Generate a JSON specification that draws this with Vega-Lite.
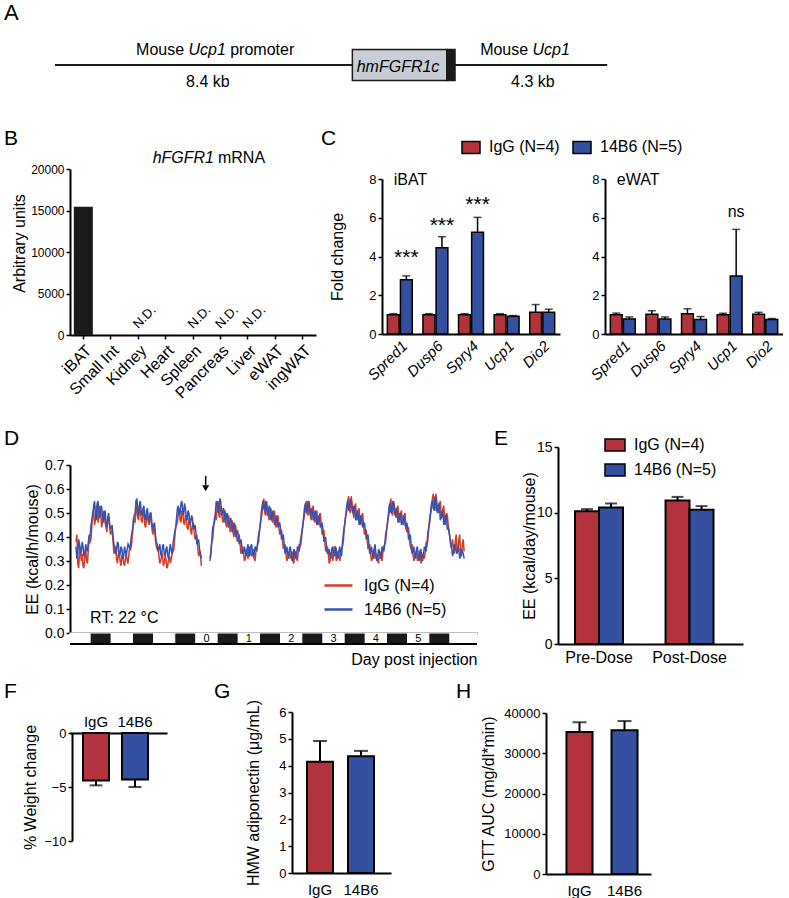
{
"$schema": "https://vega.github.io/schema/vega-lite/v6.json",
"padding": {"left": 3, "top": 0, "right": 0, "bottom": 0},
"background": "white",
"config": {
 "font": "Liberation Sans",
 "view": {"stroke": null},
 "axis": {"grid": false, "domainColor": "#000", "domainWidth": 2, "tickColor": "#000", "tickWidth": 1.5, "tickSize": 4, "labelColor": "#000", "labelFontSize": 13, "labelFont": "Liberation Sans", "titleFont": "Liberation Sans", "titleColor": "#000", "titleFontSize": 16, "titleFontWeight": "normal", "labelPadding": 2, "labelOverlap": false, "labelFlush": false},
 "legend": {"labelColor": "#000", "labelFont": "Liberation Sans", "labelFontSize": 16},
 "title": {"font": "Liberation Sans", "fontSize": 21, "fontWeight": "normal", "color": "#000", "anchor": "start", "frame": "group"},
 "text": {"font": "Liberation Sans", "color": "#000"}
},
"datasets": {
 "ee": [
{"t":-68,"r":0.38,"b":0.36},{"t":-67,"r":0.29,"b":0.33},{"t":-66,"r":0.33,"b":0.37},{"t":-65,"r":0.30,"b":0.34},{"t":-64,"r":0.28,"b":0.36},{"t":-63,"r":0.32,"b":0.33},{"t":-62,"r":0.30,"b":0.35},{"t":-61,"r":0.35,"b":0.38},
{"t":-60,"r":0.38,"b":0.40},{"t":-59,"r":0.45,"b":0.47},{"t":-58,"r":0.50,"b":0.53},{"t":-57,"r":0.47,"b":0.49},{"t":-56,"r":0.52,"b":0.54},{"t":-55,"r":0.48,"b":0.50},{"t":-54,"r":0.51,"b":0.52},{"t":-53,"r":0.46,"b":0.48},{"t":-52,"r":0.49,"b":0.50},{"t":-51,"r":0.44,"b":0.46},{"t":-50,"r":0.47,"b":0.48},{"t":-49,"r":0.45,"b":0.46},
{"t":-48,"r":0.42,"b":0.44},{"t":-47,"r":0.38,"b":0.40},{"t":-46,"r":0.34,"b":0.36},{"t":-45,"r":0.31,"b":0.34},{"t":-44,"r":0.33,"b":0.37},{"t":-43,"r":0.30,"b":0.33},{"t":-42,"r":0.32,"b":0.35},{"t":-41,"r":0.29,"b":0.32},{"t":-40,"r":0.31,"b":0.34},{"t":-39,"r":0.30,"b":0.35},{"t":-38,"r":0.33,"b":0.36},{"t":-37,"r":0.35,"b":0.38},
{"t":-36,"r":0.41,"b":0.43},{"t":-35,"r":0.47,"b":0.49},{"t":-34,"r":0.51,"b":0.55},{"t":-33,"r":0.48,"b":0.51},{"t":-32,"r":0.53,"b":0.54},{"t":-31,"r":0.47,"b":0.50},{"t":-30,"r":0.50,"b":0.52},{"t":-29,"r":0.45,"b":0.48},{"t":-28,"r":0.48,"b":0.51},{"t":-27,"r":0.46,"b":0.47},{"t":-26,"r":0.49,"b":0.50},{"t":-25,"r":0.44,"b":0.46},
{"t":-24,"r":0.43,"b":0.45},{"t":-23,"r":0.39,"b":0.41},{"t":-22,"r":0.35,"b":0.37},{"t":-21,"r":0.32,"b":0.35},{"t":-20,"r":0.30,"b":0.33},{"t":-19,"r":0.33,"b":0.36},{"t":-18,"r":0.29,"b":0.33},{"t":-17,"r":0.31,"b":0.35},{"t":-16,"r":0.28,"b":0.32},{"t":-15,"r":0.32,"b":0.35},{"t":-14,"r":0.31,"b":0.34},{"t":-13,"r":0.34,"b":0.37},
{"t":-12,"r":0.40,"b":0.42},{"t":-11,"r":0.45,"b":0.48},{"t":-10,"r":0.50,"b":0.53},{"t":-9,"r":0.47,"b":0.50},{"t":-8,"r":0.51,"b":0.55},{"t":-7,"r":0.46,"b":0.49},{"t":-6,"r":0.49,"b":0.52},{"t":-5,"r":0.44,"b":0.47},{"t":-4,"r":0.47,"b":0.50},{"t":-3,"r":0.43,"b":0.46},{"t":-2,"r":0.45,"b":0.48},{"t":-1,"r":0.42,"b":0.44},
{"t":0,"r":0.40,"b":0.42},{"t":1,"r":0.36,"b":0.38},{"t":2,"r":0.33,"b":0.35},{"t":3,"r":0.28,"b":0.31},
{"t":8,"r":0.30,"b":0.31},{"t":9,"r":0.38,"b":0.39},{"t":10,"r":0.44,"b":0.45},{"t":11,"r":0.49,"b":0.50},
{"t":12,"r":0.52,"b":0.54},{"t":13,"r":0.49,"b":0.51},{"t":14,"r":0.53,"b":0.55},{"t":15,"r":0.47,"b":0.49},{"t":16,"r":0.50,"b":0.51},{"t":17,"r":0.45,"b":0.47},{"t":18,"r":0.48,"b":0.49},{"t":19,"r":0.44,"b":0.45},{"t":20,"r":0.46,"b":0.47},{"t":21,"r":0.42,"b":0.43},{"t":22,"r":0.44,"b":0.45},{"t":23,"r":0.40,"b":0.41},
{"t":24,"r":0.40,"b":0.41},{"t":25,"r":0.37,"b":0.38},{"t":26,"r":0.34,"b":0.36},{"t":27,"r":0.33,"b":0.34},{"t":28,"r":0.31,"b":0.33},{"t":29,"r":0.34,"b":0.35},{"t":30,"r":0.32,"b":0.33},{"t":31,"r":0.35,"b":0.36},{"t":32,"r":0.33,"b":0.34},{"t":33,"r":0.31,"b":0.33},{"t":34,"r":0.34,"b":0.35},{"t":35,"r":0.37,"b":0.38},
{"t":36,"r":0.42,"b":0.43},{"t":37,"r":0.48,"b":0.50},{"t":38,"r":0.54,"b":0.55},{"t":39,"r":0.50,"b":0.51},{"t":40,"r":0.55,"b":0.53},{"t":41,"r":0.49,"b":0.50},{"t":42,"r":0.51,"b":0.52},{"t":43,"r":0.47,"b":0.48},{"t":44,"r":0.50,"b":0.49},{"t":45,"r":0.45,"b":0.46},{"t":46,"r":0.48,"b":0.47},{"t":47,"r":0.44,"b":0.45},
{"t":48,"r":0.42,"b":0.43},{"t":49,"r":0.39,"b":0.40},{"t":50,"r":0.36,"b":0.37},{"t":51,"r":0.33,"b":0.34},{"t":52,"r":0.31,"b":0.33},{"t":53,"r":0.34,"b":0.35},{"t":54,"r":0.32,"b":0.33},{"t":55,"r":0.30,"b":0.31},{"t":56,"r":0.33,"b":0.34},{"t":57,"r":0.31,"b":0.32},{"t":58,"r":0.34,"b":0.35},{"t":59,"r":0.36,"b":0.37},
{"t":60,"r":0.41,"b":0.42},{"t":61,"r":0.47,"b":0.48},{"t":62,"r":0.53,"b":0.54},{"t":63,"r":0.50,"b":0.51},{"t":64,"r":0.55,"b":0.54},{"t":65,"r":0.48,"b":0.49},{"t":66,"r":0.52,"b":0.51},{"t":67,"r":0.47,"b":0.48},{"t":68,"r":0.50,"b":0.50},{"t":69,"r":0.46,"b":0.46},{"t":70,"r":0.49,"b":0.48},{"t":71,"r":0.45,"b":0.45},
{"t":72,"r":0.42,"b":0.43},{"t":73,"r":0.38,"b":0.39},{"t":74,"r":0.35,"b":0.36},{"t":75,"r":0.33,"b":0.34},{"t":76,"r":0.30,"b":0.32},{"t":77,"r":0.34,"b":0.35},{"t":78,"r":0.32,"b":0.33},{"t":79,"r":0.35,"b":0.36},{"t":80,"r":0.31,"b":0.32},{"t":81,"r":0.33,"b":0.34},{"t":82,"r":0.32,"b":0.33},{"t":83,"r":0.36,"b":0.37},
{"t":84,"r":0.43,"b":0.44},{"t":85,"r":0.49,"b":0.50},{"t":86,"r":0.55,"b":0.55},{"t":87,"r":0.51,"b":0.52},{"t":88,"r":0.57,"b":0.55},{"t":89,"r":0.50,"b":0.50},{"t":90,"r":0.53,"b":0.52},{"t":91,"r":0.48,"b":0.48},{"t":92,"r":0.51,"b":0.50},{"t":93,"r":0.46,"b":0.46},{"t":94,"r":0.49,"b":0.48},{"t":95,"r":0.45,"b":0.45},
{"t":96,"r":0.42,"b":0.43},{"t":97,"r":0.39,"b":0.40},{"t":98,"r":0.36,"b":0.37},{"t":99,"r":0.33,"b":0.34},{"t":100,"r":0.31,"b":0.33},{"t":101,"r":0.35,"b":0.35},{"t":102,"r":0.32,"b":0.33},{"t":103,"r":0.30,"b":0.31},{"t":104,"r":0.33,"b":0.34},{"t":105,"r":0.31,"b":0.32},{"t":106,"r":0.34,"b":0.35},{"t":107,"r":0.37,"b":0.37},
{"t":108,"r":0.42,"b":0.43},{"t":109,"r":0.48,"b":0.49},{"t":110,"r":0.54,"b":0.54},{"t":111,"r":0.50,"b":0.51},{"t":112,"r":0.55,"b":0.54},{"t":113,"r":0.49,"b":0.49},{"t":114,"r":0.52,"b":0.51},{"t":115,"r":0.47,"b":0.47},{"t":116,"r":0.50,"b":0.49},{"t":117,"r":0.46,"b":0.46},{"t":118,"r":0.49,"b":0.48},{"t":119,"r":0.45,"b":0.44},
{"t":120,"r":0.43,"b":0.44},{"t":121,"r":0.39,"b":0.40},{"t":122,"r":0.35,"b":0.36},{"t":123,"r":0.33,"b":0.34},{"t":124,"r":0.31,"b":0.32},{"t":125,"r":0.34,"b":0.35},{"t":126,"r":0.31,"b":0.32},{"t":127,"r":0.33,"b":0.34},{"t":128,"r":0.30,"b":0.31},{"t":129,"r":0.32,"b":0.33},{"t":130,"r":0.34,"b":0.35},{"t":131,"r":0.37,"b":0.38},
{"t":132,"r":0.44,"b":0.44},{"t":133,"r":0.50,"b":0.50},{"t":134,"r":0.56,"b":0.55},{"t":135,"r":0.52,"b":0.51},{"t":136,"r":0.58,"b":0.56},{"t":137,"r":0.51,"b":0.50},{"t":138,"r":0.54,"b":0.53},{"t":139,"r":0.49,"b":0.48},{"t":140,"r":0.52,"b":0.50},{"t":141,"r":0.47,"b":0.46},{"t":142,"r":0.50,"b":0.49},{"t":143,"r":0.45,"b":0.44},
{"t":144,"r":0.40,"b":0.39},{"t":145,"r":0.36,"b":0.35},{"t":146,"r":0.34,"b":0.34},{"t":147,"r":0.38,"b":0.36},{"t":148,"r":0.35,"b":0.33},{"t":149,"r":0.39,"b":0.35},{"t":150,"r":0.33,"b":0.32},{"t":151,"r":0.37,"b":0.34},{"t":152,"r":0.34,"b":0.31},
{"t":-67.5,"r":0.41,"b":0.31},{"t":-66.5,"r":0.27,"b":0.39},{"t":-65.5,"r":0.36,"b":0.33},{"t":-64.5,"r":0.33,"b":0.38},{"t":-63.5,"r":0.27,"b":0.32},{"t":-62.5,"r":0.35,"b":0.37},{"t":-61.5,"r":0.29,"b":0.34},{"t":-60.5,"r":0.40,"b":0.41},
{"t":-59.5,"r":0.39,"b":0.45},{"t":-58.5,"r":0.51,"b":0.49},{"t":-57.5,"r":0.45,"b":0.55},{"t":-56.5,"r":0.53,"b":0.47},{"t":-55.5,"r":0.46,"b":0.55},{"t":-54.5,"r":0.53,"b":0.48},{"t":-53.5,"r":0.44,"b":0.53},{"t":-52.5,"r":0.51,"b":0.46},{"t":-51.5,"r":0.46,"b":0.51},{"t":-50.5,"r":0.42,"b":0.44},{"t":-49.5,"r":0.48,"b":0.50},{"t":-48.5,"r":0.41,"b":0.43},
{"t":-47.5,"r":0.43,"b":0.45},{"t":-46.5,"r":0.33,"b":0.37},{"t":-45.5,"r":0.36,"b":0.33},{"t":-44.5,"r":0.29,"b":0.38},{"t":-43.5,"r":0.34,"b":0.32},{"t":-42.5,"r":0.28,"b":0.36},{"t":-41.5,"r":0.33,"b":0.31},{"t":-40.5,"r":0.28,"b":0.36},{"t":-39.5,"r":0.33,"b":0.32},{"t":-38.5,"r":0.29,"b":0.37},{"t":-37.5,"r":0.36,"b":0.35},{"t":-36.5,"r":0.37,"b":0.41},
{"t":-35.5,"r":0.45,"b":0.47},{"t":-34.5,"r":0.46,"b":0.50},{"t":-33.5,"r":0.53,"b":0.56},{"t":-32.5,"r":0.47,"b":0.49},{"t":-31.5,"r":0.51,"b":0.55},{"t":-30.5,"r":0.46,"b":0.49},{"t":-29.5,"r":0.51,"b":0.53},{"t":-28.5,"r":0.44,"b":0.47},{"t":-27.5,"r":0.50,"b":0.52},{"t":-26.5,"r":0.45,"b":0.46},{"t":-25.5,"r":0.48,"b":0.50},{"t":-24.5,"r":0.41,"b":0.43},
{"t":-23.5,"r":0.44,"b":0.46},{"t":-22.5,"r":0.36,"b":0.38},{"t":-21.5,"r":0.36,"b":0.34},{"t":-20.5,"r":0.29,"b":0.37},{"t":-19.5,"r":0.32,"b":0.32},{"t":-18.5,"r":0.28,"b":0.37},{"t":-17.5,"r":0.32,"b":0.32},{"t":-16.5,"r":0.27,"b":0.36},{"t":-15.5,"r":0.31,"b":0.31},{"t":-14.5,"r":0.29,"b":0.37},{"t":-13.5,"r":0.33,"b":0.33},{"t":-12.5,"r":0.35,"b":0.40},
{"t":-11.5,"r":0.44,"b":0.44},{"t":-10.5,"r":0.46,"b":0.52},{"t":-9.5,"r":0.52,"b":0.49},{"t":-8.5,"r":0.46,"b":0.54},{"t":-7.5,"r":0.50,"b":0.51},{"t":-6.5,"r":0.45,"b":0.54},{"t":-5.5,"r":0.48,"b":0.48},{"t":-4.5,"r":0.43,"b":0.51},{"t":-3.5,"r":0.48,"b":0.45},{"t":-2.5,"r":0.41,"b":0.49},{"t":-1.5,"r":0.46,"b":0.43},{"t":-0.5,"r":0.39,"b":0.45},
{"t":0.5,"r":0.41,"b":0.37},{"t":1.5,"r":0.32,"b":0.39},{"t":2.5,"r":0.34,"b":0.33},
{"t":8.5,"r":0.35,"b":0.33},{"t":9.5,"r":0.39,"b":0.44},{"t":10.5,"r":0.48,"b":0.46},{"t":11.5,"r":0.47,"b":0.55},{"t":12.5,"r":0.55,"b":0.50},{"t":13.5,"r":0.48,"b":0.56},{"t":14.5,"r":0.51,"b":0.50},{"t":15.5,"r":0.46,"b":0.52},{"t":16.5,"r":0.51,"b":0.46},{"t":17.5,"r":0.44,"b":0.50},{"t":18.5,"r":0.49,"b":0.44},{"t":19.5,"r":0.42,"b":0.48},{"t":20.5,"r":0.47,"b":0.42},{"t":21.5,"r":0.40,"b":0.46},{"t":22.5,"r":0.45,"b":0.40},{"t":23.5,"r":0.38,"b":0.43},
{"t":24.5,"r":0.41,"b":0.37},{"t":25.5,"r":0.33,"b":0.39},{"t":26.5,"r":0.36,"b":0.33},{"t":27.5,"r":0.30,"b":0.36},{"t":28.5,"r":0.35,"b":0.32},{"t":29.5,"r":0.31,"b":0.37},{"t":30.5,"r":0.36,"b":0.32},{"t":31.5,"r":0.32,"b":0.37},{"t":32.5,"r":0.35,"b":0.32},{"t":33.5,"r":0.30,"b":0.36},{"t":34.5,"r":0.35,"b":0.34},{"t":35.5,"r":0.38,"b":0.41},
{"t":36.5,"r":0.46,"b":0.45},{"t":37.5,"r":0.50,"b":0.53},{"t":38.5,"r":0.56,"b":0.52},{"t":39.5,"r":0.49,"b":0.55},{"t":40.5,"r":0.52,"b":0.49},{"t":41.5,"r":0.47,"b":0.53},{"t":42.5,"r":0.52,"b":0.47},{"t":43.5,"r":0.46,"b":0.51},{"t":44.5,"r":0.51,"b":0.45},{"t":45.5,"r":0.44,"b":0.49},{"t":46.5,"r":0.49,"b":0.44},{"t":47.5,"r":0.41,"b":0.46},
{"t":48.5,"r":0.43,"b":0.39},{"t":49.5,"r":0.35,"b":0.41},{"t":50.5,"r":0.37,"b":0.33},{"t":51.5,"r":0.30,"b":0.36},{"t":52.5,"r":0.33,"b":0.31},{"t":53.5,"r":0.31,"b":0.36},{"t":54.5,"r":0.34,"b":0.30},{"t":55.5,"r":0.29,"b":0.35},{"t":56.5,"r":0.34,"b":0.31},{"t":57.5,"r":0.30,"b":0.36},{"t":58.5,"r":0.37,"b":0.34},{"t":59.5,"r":0.37,"b":0.40},
{"t":60.5,"r":0.45,"b":0.44},{"t":61.5,"r":0.49,"b":0.52},{"t":62.5,"r":0.55,"b":0.50},{"t":63.5,"r":0.49,"b":0.55},{"t":64.5,"r":0.53,"b":0.50},{"t":65.5,"r":0.47,"b":0.52},{"t":66.5,"r":0.53,"b":0.47},{"t":67.5,"r":0.46,"b":0.51},{"t":68.5,"r":0.51,"b":0.45},{"t":69.5,"r":0.45,"b":0.49},{"t":70.5,"r":0.50,"b":0.44},{"t":71.5,"r":0.41,"b":0.46},
{"t":72.5,"r":0.43,"b":0.38},{"t":73.5,"r":0.34,"b":0.40},{"t":74.5,"r":0.36,"b":0.33},{"t":75.5,"r":0.29,"b":0.35},{"t":76.5,"r":0.33,"b":0.31},{"t":77.5,"r":0.30,"b":0.36},{"t":78.5,"r":0.36,"b":0.32},{"t":79.5,"r":0.30,"b":0.35},{"t":80.5,"r":0.34,"b":0.31},{"t":81.5,"r":0.30,"b":0.36},{"t":82.5,"r":0.35,"b":0.32},{"t":83.5,"r":0.38,"b":0.41},
{"t":84.5,"r":0.47,"b":0.46},{"t":85.5,"r":0.51,"b":0.53},{"t":86.5,"r":0.57,"b":0.51},{"t":87.5,"r":0.50,"b":0.56},{"t":88.5,"r":0.54,"b":0.51},{"t":89.5,"r":0.48,"b":0.53},{"t":90.5,"r":0.54,"b":0.47},{"t":91.5,"r":0.47,"b":0.51},{"t":92.5,"r":0.52,"b":0.45},{"t":93.5,"r":0.45,"b":0.49},{"t":94.5,"r":0.50,"b":0.44},{"t":95.5,"r":0.41,"b":0.46},
{"t":96.5,"r":0.43,"b":0.39},{"t":97.5,"r":0.35,"b":0.41},{"t":98.5,"r":0.37,"b":0.33},{"t":99.5,"r":0.30,"b":0.36},{"t":100.5,"r":0.34,"b":0.31},{"t":101.5,"r":0.31,"b":0.37},{"t":102.5,"r":0.33,"b":0.30},{"t":103.5,"r":0.29,"b":0.35},{"t":104.5,"r":0.34,"b":0.31},{"t":105.5,"r":0.30,"b":0.36},{"t":106.5,"r":0.36,"b":0.34},{"t":107.5,"r":0.38,"b":0.41},
{"t":108.5,"r":0.46,"b":0.45},{"t":109.5,"r":0.50,"b":0.53},{"t":110.5,"r":0.56,"b":0.50},{"t":111.5,"r":0.49,"b":0.55},{"t":112.5,"r":0.53,"b":0.50},{"t":113.5,"r":0.48,"b":0.52},{"t":114.5,"r":0.53,"b":0.46},{"t":115.5,"r":0.46,"b":0.50},{"t":116.5,"r":0.51,"b":0.45},{"t":117.5,"r":0.45,"b":0.49},{"t":118.5,"r":0.50,"b":0.45},{"t":119.5,"r":0.42,"b":0.46},
{"t":120.5,"r":0.44,"b":0.39},{"t":121.5,"r":0.36,"b":0.41},{"t":122.5,"r":0.37,"b":0.33},{"t":123.5,"r":0.30,"b":0.36},{"t":124.5,"r":0.33,"b":0.31},{"t":125.5,"r":0.30,"b":0.36},{"t":126.5,"r":0.34,"b":0.30},{"t":127.5,"r":0.29,"b":0.35},{"t":128.5,"r":0.33,"b":0.30},{"t":129.5,"r":0.31,"b":0.36},{"t":130.5,"r":0.38,"b":0.34},{"t":131.5,"r":0.39,"b":0.42},
{"t":132.5,"r":0.48,"b":0.46},{"t":133.5,"r":0.52,"b":0.54},{"t":134.5,"r":0.58,"b":0.52},{"t":135.5,"r":0.51,"b":0.57},{"t":136.5,"r":0.55,"b":0.51},{"t":137.5,"r":0.50,"b":0.54},{"t":138.5,"r":0.55,"b":0.47},{"t":139.5,"r":0.48,"b":0.51},{"t":140.5,"r":0.53,"b":0.45},{"t":141.5,"r":0.45,"b":0.49},{"t":142.5,"r":0.49,"b":0.43},{"t":143.5,"r":0.42,"b":0.42},
{"t":144.5,"r":0.37,"b":0.36},{"t":145.5,"r":0.39,"b":0.32},{"t":146.5,"r":0.33,"b":0.37},{"t":147.5,"r":0.41,"b":0.34},{"t":148.5,"r":0.34,"b":0.36},{"t":149.5,"r":0.41,"b":0.31},{"t":150.5,"r":0.32,"b":0.35},{"t":151.5,"r":0.39,"b":0.33}
 ]
},
"bounds": "flush",
"spacing": 0,
"resolve": {"scale": {"color": "independent", "xOffset": "independent"}, "legend": {"color": "independent"}},
"vconcat": [
{
 "width": 600, "height": 169,
 "title": {"text": "B", "orient": "bottom", "offset": -24, "dx": -66, "baseline": "alphabetic"},
 "layer": [
  {"data": {"values": [{"x0": 0, "x1": 15.6, "lv": 0}]},
   "mark": {"type": "rule", "color": "#1a1a1a", "strokeWidth": 2},
   "encoding": {"x": {"field": "x0", "type": "quantitative", "scale": {"domain": [0.424, 17.373], "nice": false, "zero": false}, "axis": null},
                "x2": {"field": "x1"},
                "y": {"field": "lv", "type": "quantitative", "scale": {"domain": [-6.71, 4.194], "nice": false, "zero": false}, "axis": null}}},
  {"data": {"values": [{"x0": 8.4, "x1": 11.07, "lo": -1, "hi": 1}]},
   "mark": {"type": "rect", "fill": "#c9cdd6", "stroke": "#1a1a1a", "strokeWidth": 1.5},
   "encoding": {"x": {"field": "x0", "type": "quantitative"}, "x2": {"field": "x1"}, "y": {"field": "lo", "type": "quantitative"}, "y2": {"field": "hi"}}},
  {"data": {"values": [{"x0": 11.07, "x1": 11.3, "lo": -1, "hi": 1}]},
   "mark": {"type": "rect", "fill": "#1a1a1a", "stroke": "#1a1a1a", "strokeWidth": 1.5},
   "encoding": {"x": {"field": "x0", "type": "quantitative"}, "x2": {"field": "x1"}, "y": {"field": "lo", "type": "quantitative"}, "y2": {"field": "hi"}}},
  {"data": {"values": [{"x": 2.29, "lv": 0.645, "s": "Mouse"}, {"x": 4.95, "lv": 0.645, "s": "promoter"}, {"x": 12.01, "lv": 0.645, "s": "Mouse"}]},
   "mark": {"type": "text", "align": "left", "baseline": "alphabetic", "fontSize": 16},
   "encoding": {"x": {"field": "x", "type": "quantitative"}, "y": {"field": "lv", "type": "quantitative"}, "text": {"field": "s"}}},
  {"data": {"values": [{"x": 3.77, "lv": 0.645, "s": "Ucp1"}, {"x": 13.49, "lv": 0.645, "s": "Ucp1"}]},
   "mark": {"type": "text", "align": "left", "baseline": "alphabetic", "fontSize": 16, "fontStyle": "italic"},
   "encoding": {"x": {"field": "x", "type": "quantitative"}, "y": {"field": "lv", "type": "quantitative"}, "text": {"field": "s"}}},
  {"data": {"values": [{"x": 4.32, "lv": -1.42, "s": "8.4 kb"}, {"x": 13.5, "lv": -1.42, "s": "4.3 kb"}]},
   "mark": {"type": "text", "align": "center", "baseline": "alphabetic", "fontSize": 16},
   "encoding": {"x": {"field": "x", "type": "quantitative"}, "y": {"field": "lv", "type": "quantitative"}, "text": {"field": "s"}}},
  {"data": {"values": [{"x": 9.69, "lv": -0.45, "s": "hmFGFR1c"}]},
   "mark": {"type": "text", "align": "center", "baseline": "alphabetic", "fontSize": 16, "fontStyle": "italic"},
   "encoding": {"x": {"field": "x", "type": "quantitative"}, "y": {"field": "lv", "type": "quantitative"}, "text": {"field": "s"}}},
  {"data": {"values": [{"x": -1.4405, "lv": 2.9, "s": "A"}]},
   "mark": {"type": "text", "align": "left", "baseline": "alphabetic", "fontSize": 22},
   "encoding": {"x": {"field": "x", "type": "quantitative"}, "y": {"field": "lv", "type": "quantitative"}, "text": {"field": "s"}}}
 ]
},
{"bounds": "flush", "spacing": 0, "hconcat": [
{
 "width": 246, "height": 166,
 "layer": [
  {"data": {"values": [{"t": "iBAT", "v": 15450}]},
   "mark": {"type": "bar", "color": "#1a1a1a"},
   "encoding": {
    "x": {"field": "t", "type": "nominal", "scale": {"domain": ["iBAT", "Small Int", "Kidney", "Heart", "Spleen", "Pancreas", "Liver", "eWAT", "ingWAT"], "paddingInner": 0.307, "paddingOuter": 0.14, "align": 0.5},
          "axis": {"title": null, "labelAngle": -45, "labelFontSize": 16, "labelPadding": 3, "ticks": true, "tickSize": 4, "labelOverlap": false}},
    "y": {"field": "v", "type": "quantitative", "scale": {"domain": [0, 20000], "nice": false},
          "axis": {"values": [0, 5000, 10000, 15000, 20000], "tickCount": 5, "labelOverlap": false, "format": "d", "labelFontSize": 12, "title": "Arbitrary units", "titleX": -51, "titleY": 74, "titleBaseline": "middle"}}}},
  {"data": {"values": [{"t": "Kidney"}, {"t": "Spleen"}, {"t": "Pancreas"}, {"t": "Liver"}]},
   "mark": {"type": "text", "text": "N.D.", "angle": -45, "align": "left", "baseline": "alphabetic", "fontSize": 13},
   "encoding": {"x": {"field": "t", "type": "nominal"}, "y": {"datum": 700, "type": "quantitative"}}},
  {"data": {"values": [{}]},
   "mark": {"type": "text", "text": "hFGFR1", "fontStyle": "italic", "fontSize": 16, "align": "right", "baseline": "alphabetic", "dx": 48.4, "dy": -6},
   "encoding": {"x": {"datum": "Heart", "type": "nominal"}, "y": {"datum": 20000, "type": "quantitative"}}},
  {"data": {"values": [{}]},
   "mark": {"type": "text", "text": "mRNA", "fontSize": 16, "align": "left", "baseline": "alphabetic", "dx": 52.4, "dy": -6},
   "encoding": {"x": {"datum": "Heart", "type": "nominal"}, "y": {"datum": 20000, "type": "quantitative"}}}
 ]
}
]},
{"width": 1, "height": 10, "data": {"values": []}, "mark": "point", "title": {"text": "C", "orient": "bottom", "offset": -34, "dx": 251, "baseline": "alphabetic"}},
{"bounds": "flush", "spacing": 0, "resolve": {"scale": {"color": "independent", "xOffset": "independent"}, "legend": {"color": "independent"}}, "hconcat": [
{"width": 312, "height": 1, "data": {"values": []}, "mark": "point"},
{
 "width": 178, "height": 155,
 "layer": [
  {"data": {"values": [
    {"gene": "Spred1", "grp": "IgG (N=4)", "v": 1.0, "e": 1.05}, {"gene": "Spred1", "grp": "14B6 (N=5)", "v": 2.8, "e": 3.0},
    {"gene": "Dusp6", "grp": "IgG (N=4)", "v": 1.0, "e": 1.05}, {"gene": "Dusp6", "grp": "14B6 (N=5)", "v": 4.45, "e": 5.02},
    {"gene": "Spry4", "grp": "IgG (N=4)", "v": 1.0, "e": 1.05}, {"gene": "Spry4", "grp": "14B6 (N=5)", "v": 5.25, "e": 6.02},
    {"gene": "Ucp1", "grp": "IgG (N=4)", "v": 1.0, "e": 1.05}, {"gene": "Ucp1", "grp": "14B6 (N=5)", "v": 0.92, "e": 0.95},
    {"gene": "Dio2", "grp": "IgG (N=4)", "v": 1.12, "e": 1.52}, {"gene": "Dio2", "grp": "14B6 (N=5)", "v": 1.12, "e": 1.28}]},
   "encoding": {
    "x": {"field": "gene", "type": "nominal", "scale": {"domain": ["Spred1", "Dusp6", "Spry4", "Ucp1", "Dio2"], "paddingInner": 0.3, "paddingOuter": 0.15},
          "axis": {"title": null, "labelAngle": -45, "labelFontStyle": "italic", "labelFontSize": 15, "ticks": false, "labelPadding": 4, "labelOverlap": false}},
    "xOffset": {"field": "grp", "type": "nominal", "scale": {"domain": ["IgG (N=4)", "14B6 (N=5)"], "paddingInner": 0.1}},
    "y": {"field": "v", "type": "quantitative", "scale": {"domain": [0, 8], "nice": false},
          "axis": {"values": [0, 2, 4, 6, 8], "tickCount": 5, "labelOverlap": false, "title": "Fold change", "titleX": -45, "titleBaseline": "middle"}}},
   "layer": [
    {"mark": {"type": "rule", "color": "#000", "strokeWidth": 1.5}, "encoding": {"y2": {"field": "e"}}},
    {"mark": {"type": "tick", "color": "#000", "size": 8, "thickness": 1.5}, "encoding": {"y": {"field": "e", "type": "quantitative"}}},
    {"mark": {"type": "bar", "stroke": "#000", "strokeWidth": 1.5},
     "encoding": {"color": {"field": "grp", "type": "nominal", "scale": {"domain": ["IgG (N=4)", "14B6 (N=5)"], "range": ["#b2333b", "#3450a0"]},
       "legend": {"orient": "none", "legendX": 79, "legendY": -42, "direction": "horizontal", "title": null, "symbolType": "M-1,-0.667H1V0.667H-1Z", "symbolSize": 324, "symbolStrokeColor": "#000", "symbolStrokeWidth": 1.5, "symbolOpacity": 1, "labelFontSize": 16, "labelOffset": 8, "columnPadding": 10}}}}
   ]},
  {"data": {"values": [{"gene": "Spred1", "grp": "14B6 (N=5)", "sy": 3.59}, {"gene": "Dusp6", "grp": "14B6 (N=5)", "sy": 5.29}, {"gene": "Spry4", "grp": "14B6 (N=5)", "sy": 6.37}]},
   "mark": {"type": "text", "text": "***", "fontSize": 21, "baseline": "alphabetic"},
   "encoding": {"x": {"field": "gene", "type": "nominal"}, "xOffset": {"field": "grp", "type": "nominal"}, "y": {"field": "sy", "type": "quantitative"}}},
  {"data": {"values": [{}]},
   "mark": {"type": "text", "text": "iBAT", "fontSize": 16, "align": "left", "baseline": "alphabetic", "dx": -6, "dy": 6},
   "encoding": {"x": {"datum": "Spred1", "type": "nominal"}, "y": {"datum": 8, "type": "quantitative"}}}
 ]
},
{"width": 45, "height": 1, "data": {"values": []}, "mark": "point"},
{
 "width": 178, "height": 155,
 "layer": [
  {"data": {"values": [
    {"gene": "Spred1", "grp": "IgG (N=4)", "v": 1.0, "e": 1.08}, {"gene": "Spred1", "grp": "14B6 (N=5)", "v": 0.78, "e": 0.88},
    {"gene": "Dusp6", "grp": "IgG (N=4)", "v": 1.02, "e": 1.2}, {"gene": "Dusp6", "grp": "14B6 (N=5)", "v": 0.78, "e": 0.88},
    {"gene": "Spry4", "grp": "IgG (N=4)", "v": 1.05, "e": 1.3}, {"gene": "Spry4", "grp": "14B6 (N=5)", "v": 0.75, "e": 0.9},
    {"gene": "Ucp1", "grp": "IgG (N=4)", "v": 1.0, "e": 1.07}, {"gene": "Ucp1", "grp": "14B6 (N=5)", "v": 3.0, "e": 5.4},
    {"gene": "Dio2", "grp": "IgG (N=4)", "v": 1.02, "e": 1.12}, {"gene": "Dio2", "grp": "14B6 (N=5)", "v": 0.75, "e": 0.8}]},
   "encoding": {
    "x": {"field": "gene", "type": "nominal", "scale": {"domain": ["Spred1", "Dusp6", "Spry4", "Ucp1", "Dio2"], "paddingInner": 0.3, "paddingOuter": 0.15},
          "axis": {"title": null, "labelAngle": -45, "labelFontStyle": "italic", "labelFontSize": 15, "ticks": false, "labelPadding": 4, "labelOverlap": false}},
    "xOffset": {"field": "grp", "type": "nominal", "scale": {"domain": ["IgG (N=4)", "14B6 (N=5)"], "paddingInner": 0.1}},
    "y": {"field": "v", "type": "quantitative", "scale": {"domain": [0, 8], "nice": false},
          "axis": {"values": [0, 2, 4, 6, 8], "tickCount": 5, "labelOverlap": false, "title": null}}},
   "layer": [
    {"mark": {"type": "rule", "color": "#000", "strokeWidth": 1.5}, "encoding": {"y2": {"field": "e"}}},
    {"mark": {"type": "tick", "color": "#000", "size": 8, "thickness": 1.5}, "encoding": {"y": {"field": "e", "type": "quantitative"}}},
    {"mark": {"type": "bar", "stroke": "#000", "strokeWidth": 1.5},
     "encoding": {"color": {"field": "grp", "type": "nominal", "scale": {"domain": ["IgG (N=4)", "14B6 (N=5)"], "range": ["#b2333b", "#3450a0"]}, "legend": null}}}
   ]},
  {"data": {"values": [{"gene": "Ucp1", "grp": "14B6 (N=5)", "sy": 6.04}]},
   "mark": {"type": "text", "text": "ns", "fontSize": 16, "baseline": "alphabetic"},
   "encoding": {"x": {"field": "gene", "type": "nominal"}, "xOffset": {"field": "grp", "type": "nominal"}, "y": {"field": "sy", "type": "quantitative"}}},
  {"data": {"values": [{}]},
   "mark": {"type": "text", "text": "eWAT", "fontSize": 16, "align": "left", "baseline": "alphabetic", "dx": -6, "dy": 6},
   "encoding": {"x": {"datum": "Spred1", "type": "nominal"}, "y": {"datum": 8, "type": "quantitative"}}}
 ]
}
]},
{"width": 1, "height": 250, "data": {"values": []}, "mark": "point", "title": {"text": "D", "orient": "bottom", "offset": 16, "dx": -66, "baseline": "alphabetic"}},
{"width": 1, "height": 18, "data": {"values": []}, "mark": "point", "title": {"text": "E", "orient": "bottom", "offset": -2, "dx": 424, "baseline": "alphabetic"}},
{"bounds": "flush", "spacing": 0, "resolve": {"scale": {"color": "independent", "xOffset": "independent"}, "legend": {"color": "independent"}}, "hconcat": [
{"width": 488, "height": 1, "data": {"values": []}, "mark": "point"},
{
 "width": 185, "height": 197,
 "data": {"values": [
   {"dose": "Pre-Dose", "grp": "IgG (N=4)", "v": 10.1, "e": 10.27}, {"dose": "Pre-Dose", "grp": "14B6 (N=5)", "v": 10.4, "e": 10.7},
   {"dose": "Post-Dose", "grp": "IgG (N=4)", "v": 10.93, "e": 11.2}, {"dose": "Post-Dose", "grp": "14B6 (N=5)", "v": 10.23, "e": 10.5}]},
 "encoding": {
  "x": {"field": "dose", "type": "nominal", "scale": {"domain": ["Pre-Dose", "Post-Dose"], "paddingInner": 0.47, "paddingOuter": 0.257, "align": 0.366},
        "axis": {"title": null, "labelAngle": 0, "ticks": false, "labelFontSize": 16, "labelPadding": 5}},
  "xOffset": {"field": "grp", "type": "nominal", "scale": {"domain": ["IgG (N=4)", "14B6 (N=5)"], "paddingInner": 0}},
  "y": {"field": "v", "type": "quantitative", "scale": {"domain": [0, 15], "nice": false},
        "axis": {"values": [0, 5, 10, 15], "tickCount": 4, "labelOverlap": false, "labelFontSize": 14, "title": "EE (kcal/day/mouse)", "titleX": -29, "titleBaseline": "middle"}}},
 "layer": [
  {"mark": {"type": "rule", "color": "#000", "strokeWidth": 2}, "encoding": {"y2": {"field": "e"}}},
  {"mark": {"type": "tick", "color": "#000", "size": 12, "thickness": 2}, "encoding": {"y": {"field": "e", "type": "quantitative"}}},
  {"mark": {"type": "bar", "stroke": "#000", "strokeWidth": 2},
   "encoding": {"color": {"field": "grp", "type": "nominal", "scale": {"domain": ["IgG (N=4)", "14B6 (N=5)"], "range": ["#b2333b", "#3450a0"]},
     "legend": {"orient": "none", "legendX": 46, "legendY": -13, "direction": "vertical", "title": null, "symbolType": "M-1,-0.6H1V0.6H-1Z", "symbolSize": 400, "symbolStrokeColor": "#000", "symbolStrokeWidth": 1.5, "symbolOpacity": 1, "labelFontSize": 16, "labelOffset": 8, "rowPadding": 5}}}}
 ]
}
]},
{"width": 1, "height": 18, "data": {"values": []}, "mark": "point"},
{
 "width": 407, "height": 168,
 "layer": [
  {"data": {"name": "ee"}, "transform": [{"filter": "datum.t <= 3"}],
   "mark": {"type": "line", "strokeWidth": 1.5},
   "encoding": {
    "x": {"field": "t", "type": "quantitative", "scale": {"domain": [-71.4, 159.3], "nice": false, "zero": false},
          "axis": {"labels": false, "ticks": false, "title": "Day post injection", "titleAnchor": "end", "titleAlign": "right", "titleX": 407, "titleY": 31, "titleBaseline": "alphabetic", "titleFontSize": 16}},
    "y": {"field": "r", "type": "quantitative", "scale": {"domain": [0, 0.7], "nice": false},
          "axis": {"values": [0, 0.1, 0.2, 0.3, 0.4, 0.5, 0.6, 0.7], "tickCount": 8, "labelOverlap": false, "format": ".1f", "labelFontSize": 14, "title": "EE (kcal/h/mouse)", "titleX": -38, "titleBaseline": "middle"}},
    "color": {"datum": "IgG (N=4)", "type": "nominal", "scale": {"domain": ["IgG (N=4)", "14B6 (N=5)"], "range": ["#d43d25", "#3552b2"]},
       "legend": {"orient": "none", "legendX": 253, "legendY": 105, "title": null, "symbolType": "stroke", "symbolSize": 784, "symbolStrokeWidth": 2.5, "labelFontSize": 16, "labelOffset": 10, "rowPadding": 0}}}},
  {"data": {"name": "ee"}, "transform": [{"filter": "datum.t >= 8"}],
   "mark": {"type": "line", "strokeWidth": 1.5},
   "encoding": {"x": {"field": "t", "type": "quantitative"}, "y": {"field": "r", "type": "quantitative"}, "color": {"datum": "IgG (N=4)", "type": "nominal"}}},
  {"data": {"name": "ee"}, "transform": [{"filter": "datum.t <= 3"}],
   "mark": {"type": "line", "strokeWidth": 1.5},
   "encoding": {"x": {"field": "t", "type": "quantitative"}, "y": {"field": "b", "type": "quantitative"}, "color": {"datum": "14B6 (N=5)", "type": "nominal"}}},
  {"data": {"name": "ee"}, "transform": [{"filter": "datum.t >= 8"}],
   "mark": {"type": "line", "strokeWidth": 1.5},
   "encoding": {"x": {"field": "t", "type": "quantitative"}, "y": {"field": "b", "type": "quantitative"}, "color": {"datum": "14B6 (N=5)", "type": "nominal"}}},
  {"data": {"values": [
    {"a": -71.4, "b": -60, "ph": "L"}, {"a": -60, "b": -48, "ph": "D"}, {"a": -48, "b": -36, "ph": "L"}, {"a": -36, "b": -24, "ph": "D"},
    {"a": -24, "b": -12, "ph": "L"}, {"a": -12, "b": 0, "ph": "D"}, {"a": 0, "b": 12, "ph": "L"}, {"a": 12, "b": 24, "ph": "D"},
    {"a": 24, "b": 36, "ph": "L"}, {"a": 36, "b": 48, "ph": "D"}, {"a": 48, "b": 60, "ph": "L"}, {"a": 60, "b": 72, "ph": "D"},
    {"a": 72, "b": 84, "ph": "L"}, {"a": 84, "b": 96, "ph": "D"}, {"a": 96, "b": 108, "ph": "L"}, {"a": 108, "b": 120, "ph": "D"},
    {"a": 120, "b": 132, "ph": "L"}, {"a": 132, "b": 144, "ph": "D"}, {"a": 144, "b": 159.3, "ph": "L"}]},
   "mark": {"type": "rect", "stroke": "#ffffff", "strokeWidth": 1},
   "encoding": {
    "x": {"field": "a", "type": "quantitative"},
    "x2": {"field": "b"},
    "y": {"datum": 0, "type": "quantitative"},
    "y2": {"datum": -0.046},
    "fill": {"condition": {"test": "datum.ph == 'D'", "value": "#1a1a1a"}, "value": "#ffffff"}}},
  {"data": {"values": [{"t": 6, "d": "0"}, {"t": 30, "d": "1"}, {"t": 54, "d": "2"}, {"t": 78, "d": "3"}, {"t": 102, "d": "4"}, {"t": 126, "d": "5"}]},
   "mark": {"type": "text", "fontSize": 11, "baseline": "middle"},
   "encoding": {"x": {"field": "t", "type": "quantitative"}, "y": {"datum": -0.023, "type": "quantitative"}, "text": {"field": "d"}}},
  {"data": {"values": [{}]},
   "mark": {"type": "rule", "color": "#000", "strokeWidth": 2},
   "encoding": {"x": {"datum": -71.4, "type": "quantitative"}, "x2": {"datum": 159.3}, "y": {"datum": -0.046, "type": "quantitative"}}},
  {"data": {"values": [{"t": -60, "y": 0.042, "s": "RT: 22 °C"}]},
   "mark": {"type": "text", "align": "left", "baseline": "alphabetic", "fontSize": 16},
   "encoding": {"x": {"field": "t", "type": "quantitative"}, "y": {"field": "y", "type": "quantitative"}, "text": {"field": "s"}}},
  {"data": {"values": [{}]},
   "mark": {"type": "rule", "color": "#000", "strokeWidth": 1.5},
   "encoding": {"x": {"datum": 5.5, "type": "quantitative"}, "y": {"datum": 0.655, "type": "quantitative"}, "y2": {"datum": 0.615}}},
  {"data": {"values": [{}]},
   "mark": {"type": "point", "shape": "triangle-down", "filled": true, "color": "#000", "size": 50, "opacity": 1},
   "encoding": {"x": {"datum": 5.5, "type": "quantitative"}, "y": {"datum": 0.603, "type": "quantitative"}}}
 ]
},
{"width": 1, "height": 77, "data": {"values": []}, "mark": "point", "title": {"text": "F", "orient": "bottom", "offset": -12, "dx": -66, "baseline": "alphabetic"}},
{"width": 1, "height": 1, "data": {"values": []}, "mark": "point", "title": {"text": "G", "orient": "bottom", "offset": -13, "dx": 144, "baseline": "alphabetic"}},
{"width": 1, "height": 1, "data": {"values": []}, "mark": "point", "title": {"text": "H", "orient": "bottom", "offset": -14, "dx": 386, "baseline": "alphabetic"}},
{"bounds": "flush", "spacing": 0, "hconcat": [
{"width": 222, "height": 1, "data": {"values": []}, "mark": "point"},
{
 "width": 99, "height": 161,
 "data": {"values": [{"g": "IgG", "v": 4.15, "e": 4.92}, {"g": "14B6", "v": 4.35, "e": 4.55}]},
 "encoding": {
  "x": {"field": "g", "type": "nominal", "scale": {"domain": ["IgG", "14B6"], "paddingInner": 0.366, "paddingOuter": 0.39, "align": 0.469},
        "axis": {"title": null, "labelAngle": 0, "ticks": false, "labelFontSize": 15, "labelPadding": 9}},
  "y": {"field": "v", "type": "quantitative", "scale": {"domain": [0, 6], "nice": false},
        "axis": {"values": [0, 1, 2, 3, 4, 5, 6], "tickCount": 7, "labelOverlap": false, "title": "HMW adiponectin (μg/mL)", "titleX": -39, "titleBaseline": "middle"}}},
 "layer": [
  {"mark": {"type": "rule", "color": "#000", "strokeWidth": 2}, "encoding": {"y2": {"field": "e"}}},
  {"mark": {"type": "tick", "color": "#000", "size": 14, "thickness": 2}, "encoding": {"y": {"field": "e", "type": "quantitative"}}},
  {"mark": {"type": "bar", "stroke": "#000", "strokeWidth": 2},
   "encoding": {"color": {"field": "g", "type": "nominal", "scale": {"domain": ["IgG", "14B6"], "range": ["#b2333b", "#3450a0"]}, "legend": null}}}
 ]
}
]},
{"width": 1, "height": 1, "data": {"values": []}, "mark": "point"},
{"bounds": "flush", "spacing": 0, "hconcat": [
{"width": 476, "height": 1, "data": {"values": []}, "mark": "point"},
{
 "width": 105, "height": 161,
 "data": {"values": [{"g": "IgG", "v": 35300, "e": 37700}, {"g": "14B6", "v": 35700, "e": 38000}]},
 "encoding": {
  "x": {"field": "g", "type": "nominal", "scale": {"domain": ["IgG", "14B6"], "paddingInner": 0.422, "paddingOuter": 0.377, "align": 0.603},
        "axis": {"title": null, "labelAngle": 0, "ticks": false, "labelFontSize": 15, "labelPadding": 9}},
  "y": {"field": "v", "type": "quantitative", "scale": {"domain": [0, 40000], "nice": false},
        "axis": {"values": [0, 10000, 20000, 30000, 40000], "tickCount": 5, "labelOverlap": false, "format": "d", "title": "GTT AUC (mg/dl*min)", "titleX": -58, "titleBaseline": "middle"}}},
 "layer": [
  {"mark": {"type": "rule", "color": "#000", "strokeWidth": 2}, "encoding": {"y2": {"field": "e"}}},
  {"mark": {"type": "tick", "color": "#000", "size": 14, "thickness": 2}, "encoding": {"y": {"field": "e", "type": "quantitative"}}},
  {"mark": {"type": "bar", "stroke": "#000", "strokeWidth": 2},
   "encoding": {"color": {"field": "g", "type": "nominal", "scale": {"domain": ["IgG", "14B6"], "range": ["#b2333b", "#3450a0"]}, "legend": null}}}
 ]
}
]},
{"width": 1, "height": 20, "data": {"values": []}, "mark": "point"},
{
 "width": 97, "height": 108,
 "data": {"values": [{"g": "IgG", "v": -4.4, "e": -4.85}, {"g": "14B6", "v": -4.3, "e": -5.0}]},
 "encoding": {
  "x": {"field": "g", "type": "nominal", "scale": {"domain": ["IgG", "14B6"], "paddingInner": 0.333, "paddingOuter": 0.41, "align": 0.406},
        "axis": {"orient": "top", "title": null, "labelAngle": 0, "ticks": false, "labelFontSize": 15, "labelPadding": 4}},
  "y": {"field": "v", "type": "quantitative", "scale": {"domain": [-10, 0], "nice": false},
        "axis": {"values": [0, -5, -10], "tickCount": 3, "labelOverlap": false, "offset": -2, "title": "% Weight change", "titleX": -42, "titleBaseline": "middle"}}},
 "layer": [
  {"mark": {"type": "rule", "color": "#000", "strokeWidth": 2}, "encoding": {"y2": {"field": "e"}}},
  {"mark": {"type": "tick", "color": "#000", "size": 13, "thickness": 2}, "encoding": {"y": {"field": "e", "type": "quantitative"}}},
  {"mark": {"type": "bar", "stroke": "#000", "strokeWidth": 2},
   "encoding": {"color": {"field": "g", "type": "nominal", "scale": {"domain": ["IgG", "14B6"], "range": ["#b2333b", "#3450a0"]}, "legend": null}}}
 ]
}
]
}
